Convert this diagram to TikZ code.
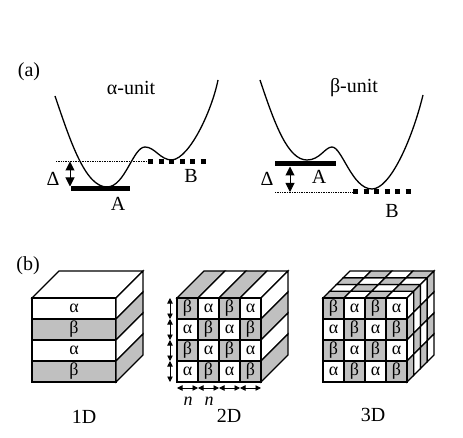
\documentclass[tikz,border=0pt]{standalone}
\usepackage{fontspec}
\setmainfont{Liberation Serif}
\usetikzlibrary{arrows.meta}
\definecolor{cellgray}{RGB}{192,192,192}
\tikzset{lbl/.style={font=\fontsize{20}{22}\selectfont, inner sep=0pt}}
\tikzset{cellt/.style={font=\fontsize{18}{20}\selectfont, inner sep=0pt}}
\tikzset{edge/.style={line width=1.1pt}}
\tikzset{levelA/.style={line width=5pt}}
\tikzset{levelB/.style={line width=5pt, dash pattern=on 5pt off 5.5pt}}
\tikzset{guide/.style={line width=0.7pt, dash pattern=on 0.8pt off 0.9pt}}
\tikzset{gap/.style={{Triangle[length=9pt,width=9pt]}-{Triangle[length=9pt,width=9pt]}, line width=1pt}}
\tikzset{nstep/.style={{Triangle[length=5.5pt,width=5.5pt]}-{Triangle[length=5.5pt,width=5.5pt]}, line width=0.9pt}}

\begin{document}
\begin{tikzpicture}[x=1pt,y=-1pt]
\useasboundingbox (0,0) rectangle (463,438);
% (a) potentials
\node[lbl] (tagA) at (29,72) {(a)};
\node[lbl] (titleAlpha) at (131,88) {α-unit};
\node[lbl] (titleBeta) at (354,88) {β-unit};

\draw[line width=1.3pt] (55,96) .. controls (70,140) and (85,187) .. (107,187)
  .. controls (125,187) and (133,147) .. (145,147)
  .. controls (155,147) and (160,160) .. (172,160)
  .. controls (190,158) and (212,110) .. (218,80);
\draw[guide] (56,161.5) -- (148,161.5);
\draw[levelB] (148,161.5) -- (208,161.5);
\draw[levelA] (71,189) -- (130,189);
\coordinate (aTop) at (70,161.5);
\coordinate (aBot) at (70,186.5);
\draw[gap] (aTop) -- (aBot);
\node[lbl] (deltaAlpha) at (53,179) {Δ};
\node[lbl] (stateAalpha) at (118,204) {A};
\node[lbl] (stateBalpha) at (191,176) {B};

\draw[line width=1.3pt] (260,80) .. controls (275,125) and (288,160) .. (307,160)
  .. controls (320,160) and (325,147) .. (332,147)
  .. controls (342,147) and (352,189) .. (372,189)
  .. controls (390,189) and (412,140) .. (423,95);
\draw[levelA] (275,164) -- (336,164);
\draw[guide] (275,192) -- (353,192);
\draw[levelB] (353,192) -- (411,192);
\coordinate (bTop) at (290,166.5);
\coordinate (bBot) at (290,192);
\draw[gap] (bTop) -- (bBot);
\node[lbl] (deltaBeta) at (267,179) {Δ};
\node[lbl] (stateAbeta) at (319,177) {A};
\node[lbl] (stateBbeta) at (392,211) {B};

% (b) superlattices
\node[lbl] (tagB) at (28,266) {(b)};

% 1D
\begin{scope}[shift={(32,298)}]
\filldraw[edge, fill=white] (0,0) -- (27,-27) -- (111,-27) -- (84,0) -- cycle;
\foreach \r/\c/\t in {0/white/α,1/cellgray/β,2/white/α,3/cellgray/β}{
  \filldraw[edge, fill=\c] (0,21*\r) rectangle (84,21*\r+21);
  \filldraw[edge, fill=\c] (84,21*\r) -- (111,21*\r-27) -- (111,21*\r-6) -- (84,21*\r+21) -- cycle;
  \node[cellt] (oneD\r) at (42,21*\r+10.5) {\t};
}
\end{scope}
\node[lbl] (labelOne) at (84,417) {1D};

% 2D
\begin{scope}[shift={(177,298)}]
\foreach \i/\c in {0/cellgray,1/white,2/cellgray,3/white}{
  \filldraw[edge, fill=\c] (21*\i,0) -- (21*\i+27,-27) -- (21*\i+48,-27) -- (21*\i+21,0) -- cycle;
}
\foreach \j/\c in {0/white,1/cellgray,2/white,3/cellgray}{
  \filldraw[edge, fill=\c] (84,21*\j) -- (111,21*\j-27) -- (111,21*\j-6) -- (84,21*\j+21) -- cycle;
}
\foreach \j in {0,...,3}{
  \foreach \i in {0,...,3}{
    \pgfmathtruncatemacro\parity{mod(\i+\j,2)}
    \ifnum\parity=0
      \filldraw[edge, fill=cellgray] (21*\i,21*\j) rectangle (21*\i+21,21*\j+21);
      \node[cellt] (twoD\i\j) at (21*\i+10.5,21*\j+10.5) {β};
    \else
      \filldraw[edge, fill=white] (21*\i,21*\j) rectangle (21*\i+21,21*\j+21);
      \node[cellt] (twoD\i\j) at (21*\i+10.5,21*\j+10.5) {α};
    \fi
  }
  \coordinate (rowTop\j) at (-7,21*\j);
  \coordinate (rowBot\j) at (-7,21*\j+21);
  \draw[nstep] (rowTop\j) -- (rowBot\j);
  \coordinate (colL\j) at (21*\j,90);
  \coordinate (colR\j) at (21*\j+21,90);
  \draw[nstep] (colL\j) -- (colR\j);
}
\end{scope}
\node[font=\fontsize{18}{20}\selectfont\itshape, inner sep=0pt] (nOne) at (188,401) {n};
\node[font=\fontsize{18}{20}\selectfont\itshape, inner sep=0pt] (nTwo) at (209,401) {n};
\node[lbl] (labelTwo) at (229,416) {2D};

% 3D
\begin{scope}[shift={(323,298)}]
\foreach \k in {0,...,3}{
  \foreach \i in {0,...,3}{
    \pgfmathtruncatemacro\parity{mod(\i+\k,2)}
    \ifnum\parity=0 \def\fc{cellgray}\else\def\fc{white}\fi
    \filldraw[edge, fill=\fc] (21*\i+6.75*\k,-6.75*\k) -- (21*\i+6.75*\k+6.75,-6.75*\k-6.75)
      -- (21*\i+6.75*\k+27.75,-6.75*\k-6.75) -- (21*\i+6.75*\k+21,-6.75*\k) -- cycle;
  }
  \foreach \j in {0,...,3}{
    \pgfmathtruncatemacro\parity{mod(\j+\k,2)}
    \ifnum\parity=1 \def\fc{cellgray}\else\def\fc{white}\fi
    \filldraw[edge, fill=\fc] (84+6.75*\k,21*\j-6.75*\k) -- (84+6.75*\k+6.75,21*\j-6.75*\k-6.75)
      -- (84+6.75*\k+6.75,21*\j-6.75*\k+14.25) -- (84+6.75*\k,21*\j-6.75*\k+21) -- cycle;
  }
}
\foreach \j in {0,...,3}{
  \foreach \i in {0,...,3}{
    \pgfmathtruncatemacro\parity{mod(\i+\j,2)}
    \ifnum\parity=0
      \filldraw[edge, fill=cellgray] (21*\i,21*\j) rectangle (21*\i+21,21*\j+21);
      \node[cellt] (threeD\i\j) at (21*\i+10.5,21*\j+10.5) {β};
    \else
      \filldraw[edge, fill=white] (21*\i,21*\j) rectangle (21*\i+21,21*\j+21);
      \node[cellt] (threeD\i\j) at (21*\i+10.5,21*\j+10.5) {α};
    \fi
  }
}
\end{scope}
\node[lbl] (labelThree) at (373,415) {3D};
\end{tikzpicture}
\end{document}
